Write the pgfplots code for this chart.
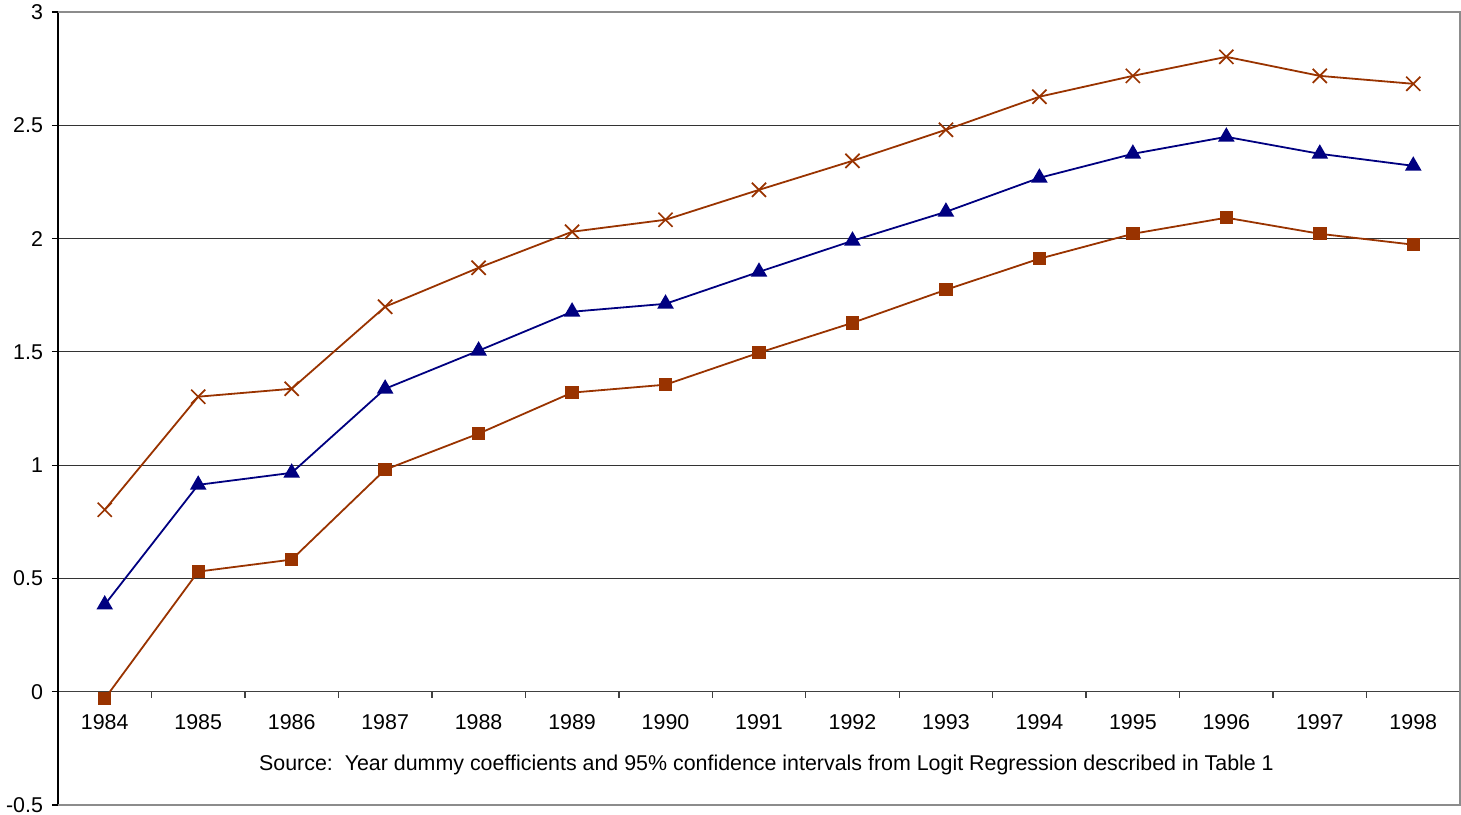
\documentclass[border=0pt]{standalone}
\usepackage{pgfplots}
\pgfplotsset{compat=1.18}
\usepackage{fontspec}
\setmainfont{Liberation Sans}

\definecolor{cibrown}{RGB}{153,51,0}
\definecolor{cinavy}{RGB}{0,0,128}

% year index (0 = 1984), upper bound, coefficient, lower bound
\pgfplotstableread{
x upper coef lower
0  0.803 0.384 -0.031
1  1.302 0.913  0.530
2  1.337 0.966  0.583
3  1.699 1.337  0.980
4  1.871 1.505  1.139
5  2.030 1.677  1.320
6  2.083 1.712  1.355
7  2.215 1.853  1.496
8  2.343 1.990  1.628
9  2.480 2.118  1.774
10 2.626 2.268  1.911
11 2.718 2.374  2.021
12 2.802 2.449  2.092
13 2.718 2.374  2.021
14 2.683 2.321  1.973
}\coef

\begin{document}
\begin{tikzpicture}
\begin{axis}[
  scale only axis, width=701pt, height=396.5pt,
  xmin=-0.5, xmax=14.5, ymin=-0.5, ymax=3,
  axis x line=middle, axis y line=left,
  axis line style={-},
  x axis line style={black!75, line width=0.7pt},
  y axis line style={black, line width=0.8pt},
  hide obscured x ticks=false, hide obscured y ticks=false,
  xtick={0,...,14},
  xticklabels={1984,1985,1986,1987,1988,1989,1990,1991,1992,1993,1994,1995,1996,1997,1998},
  major x tick style={draw=none},
  minor xtick={0.5,1.5,...,14.5},
  minor x tick style={black!75, line width=0.7pt},
  ytick={-0.5,0,0.5,1,1.5,2,2.5,3},
  yticklabels={-0.5,0,0.5,1,1.5,2,2.5,3},
  y tick style={black, line width=0.6pt},
  major tick length=3pt, minor tick length=3pt,
  tick align=outside,
  xticklabel style={yshift=-5pt},
  yticklabel style={xshift=-1pt},
  ymajorgrids, grid style={black!80, line width=0.5pt},
  tick label style={font=\fontsize{10.7}{12}\selectfont},
  clip=false,
]
\draw[gray!90, line width=0.8pt] (rel axis cs:0,0) -- (rel axis cs:1,0) -- (rel axis cs:1,1) -- (rel axis cs:0,1);
\coordinate (pa) at (rel axis cs:0,0);
\coordinate (pb) at (rel axis cs:1,1);

\addplot[cibrown, line width=0.9pt, mark=x, mark size=5pt, mark options={line width=0.85pt}] table[x=x, y=upper] {\coef};
\addplot[cinavy, line width=0.9pt, mark=triangle*, mark size=3.9pt] table[x=x, y=coef] {\coef};
\addplot[cibrown, line width=0.9pt, mark=square*, mark size=2.9pt] table[x=x, y=lower] {\coef};

\node[font=\fontsize{10.7}{12}\selectfont] at (axis cs:7.08,-0.322)
  {Source:\ \ Year dummy coefficients and 95\% confidence intervals from Logit Regression described in Table 1};
\end{axis}
\path (pa) ++(-29pt,-5pt) coordinate (bl);
\path (pb) ++(0.5pt,6pt) coordinate (tr);
\pgfresetboundingbox
\useasboundingbox (bl) rectangle (tr);
\end{tikzpicture}
\end{document}
